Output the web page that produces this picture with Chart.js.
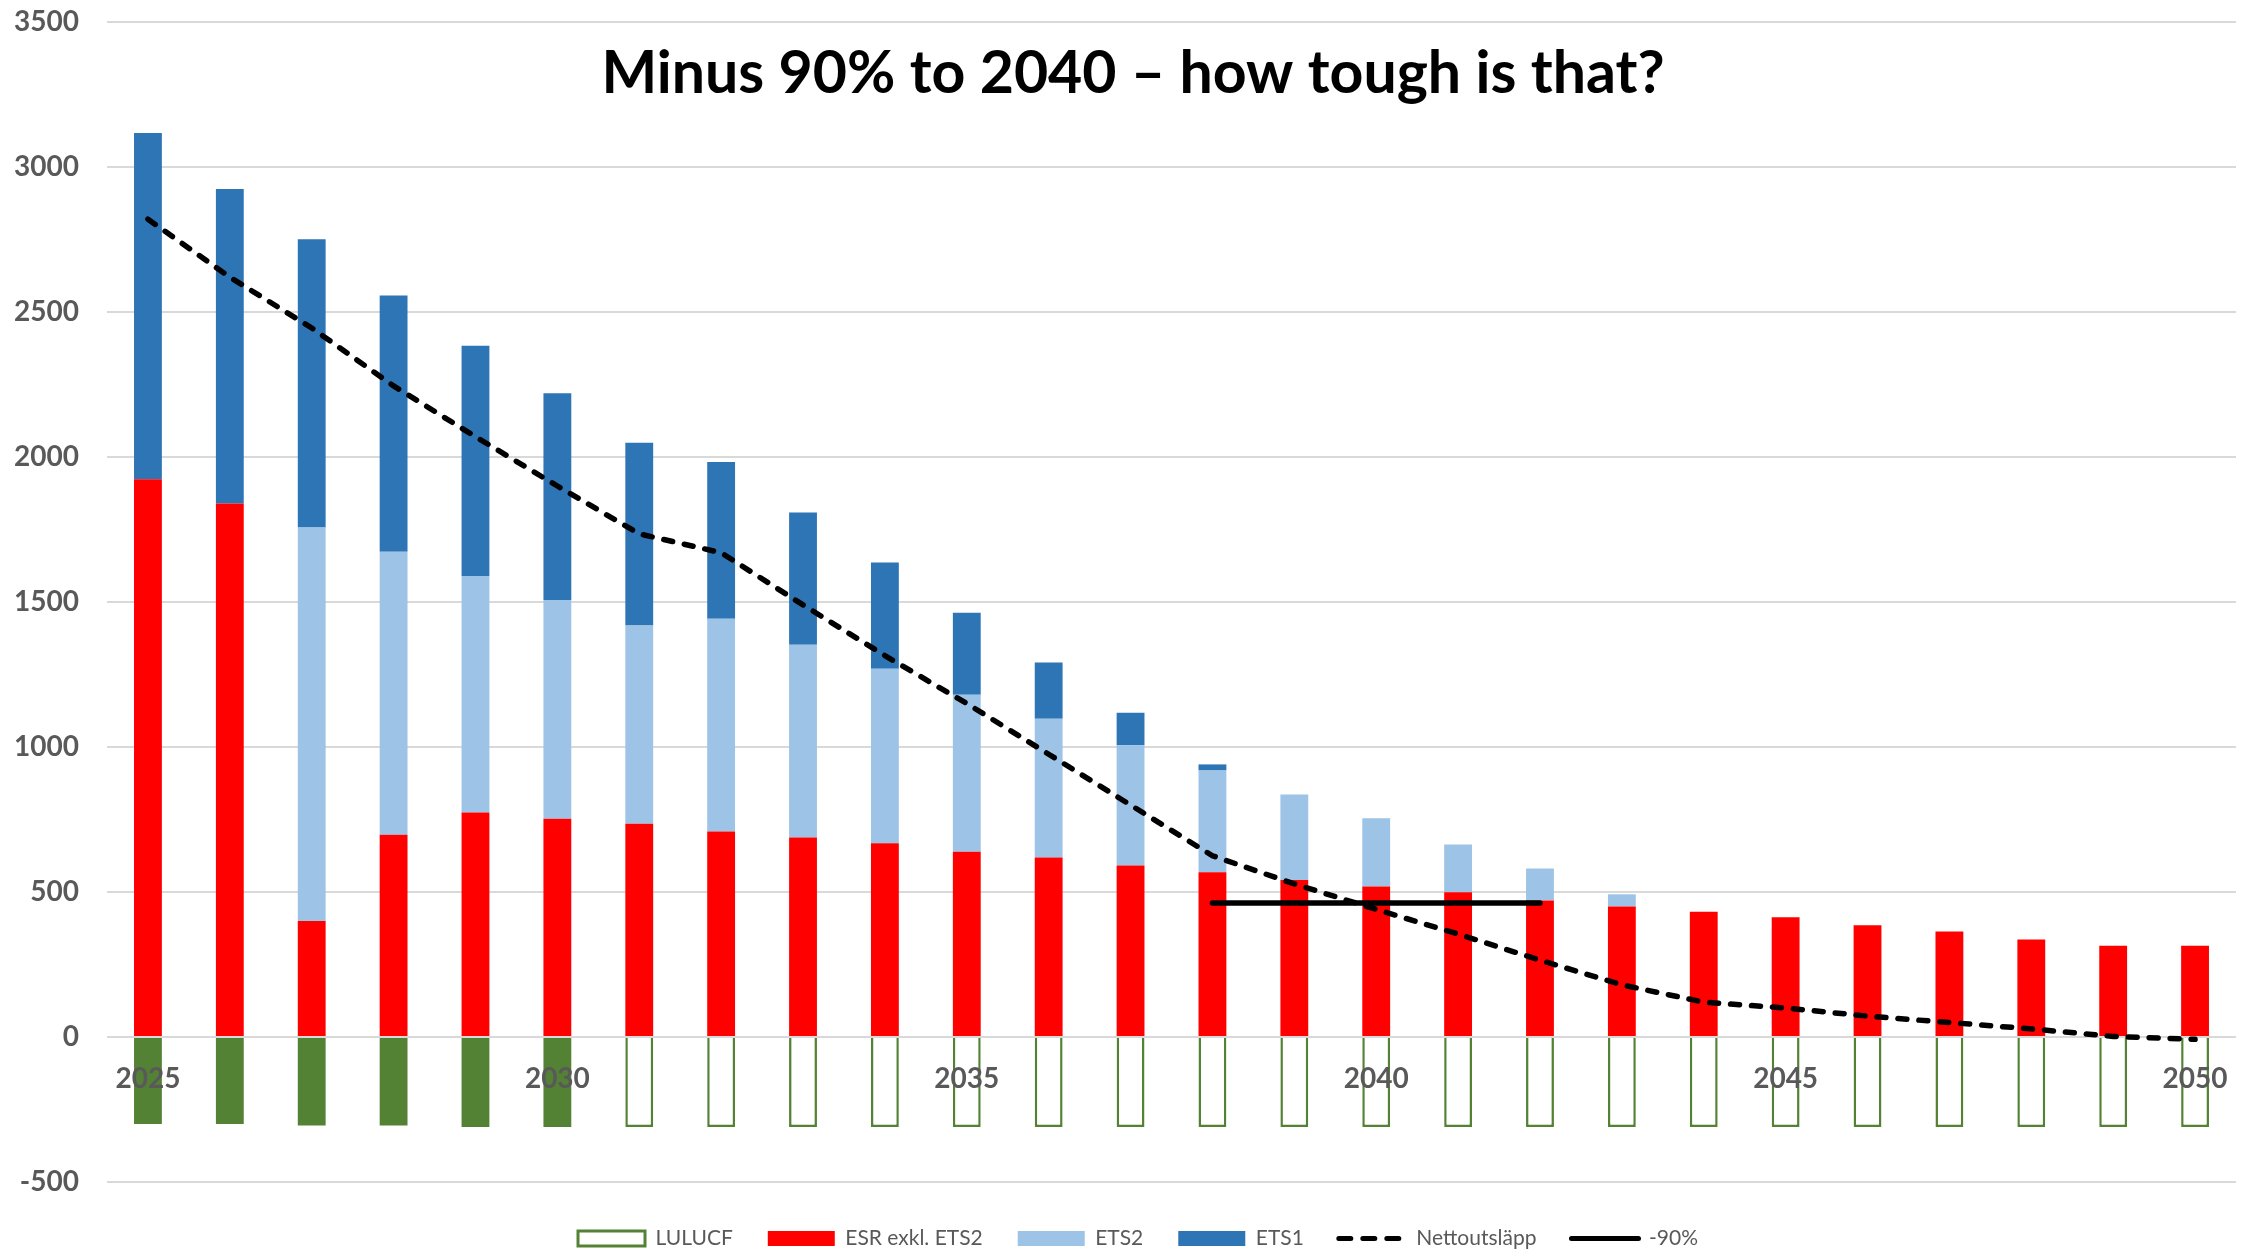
<!DOCTYPE html>
<html>
<head>
<meta charset="utf-8">
<script src="https://cdn.jsdelivr.net/npm/chart.js@4.4.1/dist/chart.umd.min.js"></script>
<style>
  html, body { margin: 0; padding: 0; background: #fff; }
  #wrap { width: 2254px; height: 1250px; }
</style>
</head>
<body>
<div id="wrap"><canvas id="chart" width="2254" height="1250"></canvas></div>
<script>
const titleText = 'Minus 90% to 2040 – how tough is that?';

const years = [2025, 2026, 2027, 2028, 2029, 2030, 2031, 2032, 2033, 2034, 2035, 2036, 2037,
  2038, 2039, 2040, 2041, 2042, 2043, 2044, 2045, 2046, 2047, 2048, 2049, 2050];
const shownYears = [2025, 2030, 2035, 2040, 2045, 2050];

const lulucf = [-300, -300, -305, -305, -310, -310, -310, -310, -310, -310, -310, -310, -310,
  -310, -310, -310, -310, -310, -310, -310, -310, -310, -310, -310, -310, -310];
const esr = [1923, 1840, 400, 697, 774, 753, 735, 709, 688, 668, 639, 619, 591,
  568, 541, 519, 499, 471, 450, 432, 413, 385, 364, 336, 315, 315];
const ets2 = [0, 0, 1357, 976, 816, 754, 684, 733, 665, 602, 541, 478, 415,
  351, 295, 235, 165, 110, 42, 0, 0, 0, 0, 0, 0, 0];
const ets1 = [1194, 1084, 994, 884, 794, 713, 630, 541, 456, 366, 283, 194, 112,
  21, 0, 0, 0, 0, 0, 0, 0, 0, 0, 0, 0, 0];
const netto = [2820, 2620, 2445, 2245, 2070, 1900, 1735, 1670, 1490, 1315, 1150, 975, 800,
  625, 528, 440, 355, 265, 180, 120, 100, 72, 50, 28, 2, -8];
const minus90 = [null, null, null, null, null, null, null, null, null, null, null, null, null,
  462, 462, 462, 462, 462, null, null, null, null, null, null, null, null];

const green = '#548235';
const red = '#FF0000';
const lightBlue = '#9DC3E6';
const blue = '#2E75B6';
const gray = '#595959';

Chart.defaults.font.family = 'Lato, "Noto Sans", sans-serif';

// title sits inside the plot area, like in the excel chart
const overlayTitle = {
  id: 'overlayTitle',
  afterDraw(chart) {
    const ctx = chart.ctx;
    ctx.save();
    ctx.font = 'bold 59px Lato';
    ctx.fillStyle = '#000';
    ctx.textAlign = 'center';
    ctx.textBaseline = 'alphabetic';
    ctx.fillText(titleText, 1133, 93);
    ctx.restore();
  }
};

// keep legend short so the plot goes down to -500, then nudge it a bit
const legendFit = {
  id: 'legendFit',
  beforeInit(chart) {
    const fit = chart.legend.fit;
    chart.legend.fit = function () {
      fit.call(this);
      this.height = 68;
    };
  },
  afterLayout(chart) {
    chart.legend.top += 11;
    chart.legend.bottom += 11;
    chart.legend.left += 20;
    chart.legend.right += 20;
  }
};

const ctx = document.getElementById('chart').getContext('2d');

new Chart(ctx, {
  type: 'bar',
  data: {
    labels: years,
    datasets: [
      {
        type: 'line', label: 'Nettoutsläpp', data: netto, stack: 'netto', order: 0,
        borderColor: '#000', borderWidth: 5.5, borderDash: [9, 12], borderCapStyle: 'round',
        pointRadius: 0, tension: 0, fill: false
      },
      {
        type: 'line', label: '-90%', data: minus90, stack: 'target', order: 0,
        borderColor: '#000', borderWidth: 5.5, borderCapStyle: 'round',
        pointRadius: 0, tension: 0, fill: false
      },
      {
        label: 'LULUCF', data: lulucf, order: 1,
        backgroundColor: (c) => years[c.dataIndex] <= 2030 ? green : '#FFFFFF',
        borderColor: green,
        borderWidth: (c) => years[c.dataIndex] <= 2030 ? 0 : 2.5
      },
      { label: 'ESR exkl. ETS2', data: esr, order: 1, backgroundColor: red },
      { label: 'ETS2', data: ets2, order: 1, backgroundColor: lightBlue },
      { label: 'ETS1', data: ets1, order: 1, backgroundColor: blue }
    ]
  },
  options: {
    responsive: false,
    animation: false,
    devicePixelRatio: 1,
    layout: { padding: { top: 0, right: 18, left: 0, bottom: 0 } },
    datasets: {
      bar: { barPercentage: 1, categoryPercentage: 0.34 }
    },
    scales: {
      x: {
        stacked: true,
        position: { y: 0 },
        grid: { display: false, drawTicks: false },
        border: { display: false },
        ticks: {
          z: 1, autoSkip: false, maxRotation: 0, padding: 25, color: gray,
          font: { size: 28, weight: 'bold' },
          callback: (v, i) => shownYears.includes(years[i]) ? String(years[i]) : ''
        }
      },
      y: {
        stacked: true,
        min: -500,
        max: 3500,
        grid: { color: '#D9D9D9', lineWidth: 2, drawTicks: false },
        border: { display: false },
        ticks: {
          stepSize: 500, padding: 28, color: gray,
          font: { size: 28, weight: 'bold' },
          callback: (v) => String(v)
        },
        afterFit(scale) {
          scale.width = 107;
          // tick padding is horizontal here, don't let it push the plot down
          scale.paddingTop = 22;
          scale.paddingBottom = 17;
        }
      }
    },
    plugins: {
      title: { display: false },
      tooltip: { enabled: false },
      legend: {
        position: 'bottom',
        labels: {
          usePointStyle: true,
          pointStyleWidth: 67,
          boxHeight: 15,
          padding: 35,
          color: gray,
          font: { size: 21 },
          generateLabels: () => [
            { text: 'LULUCF', fillStyle: '#FFFFFF', strokeStyle: green, lineWidth: 3, pointStyle: 'rect', fontColor: gray },
            { text: 'ESR exkl. ETS2', fillStyle: red, strokeStyle: red, lineWidth: 0, pointStyle: 'rect', fontColor: gray },
            { text: 'ETS2', fillStyle: lightBlue, strokeStyle: lightBlue, lineWidth: 0, pointStyle: 'rect', fontColor: gray },
            { text: 'ETS1', fillStyle: blue, strokeStyle: blue, lineWidth: 0, pointStyle: 'rect', fontColor: gray },
            { text: 'Nettoutsläpp', fillStyle: 'rgba(0,0,0,0)', strokeStyle: '#000', lineWidth: 5, lineDash: [12, 12], lineCap: 'round', pointStyle: 'line', fontColor: gray },
            { text: '-90%', fillStyle: 'rgba(0,0,0,0)', strokeStyle: '#000', lineWidth: 5, lineCap: 'round', pointStyle: 'line', fontColor: gray }
          ]
        }
      }
    }
  },
  plugins: [overlayTitle, legendFit]
});
</script>
</body>
</html>
